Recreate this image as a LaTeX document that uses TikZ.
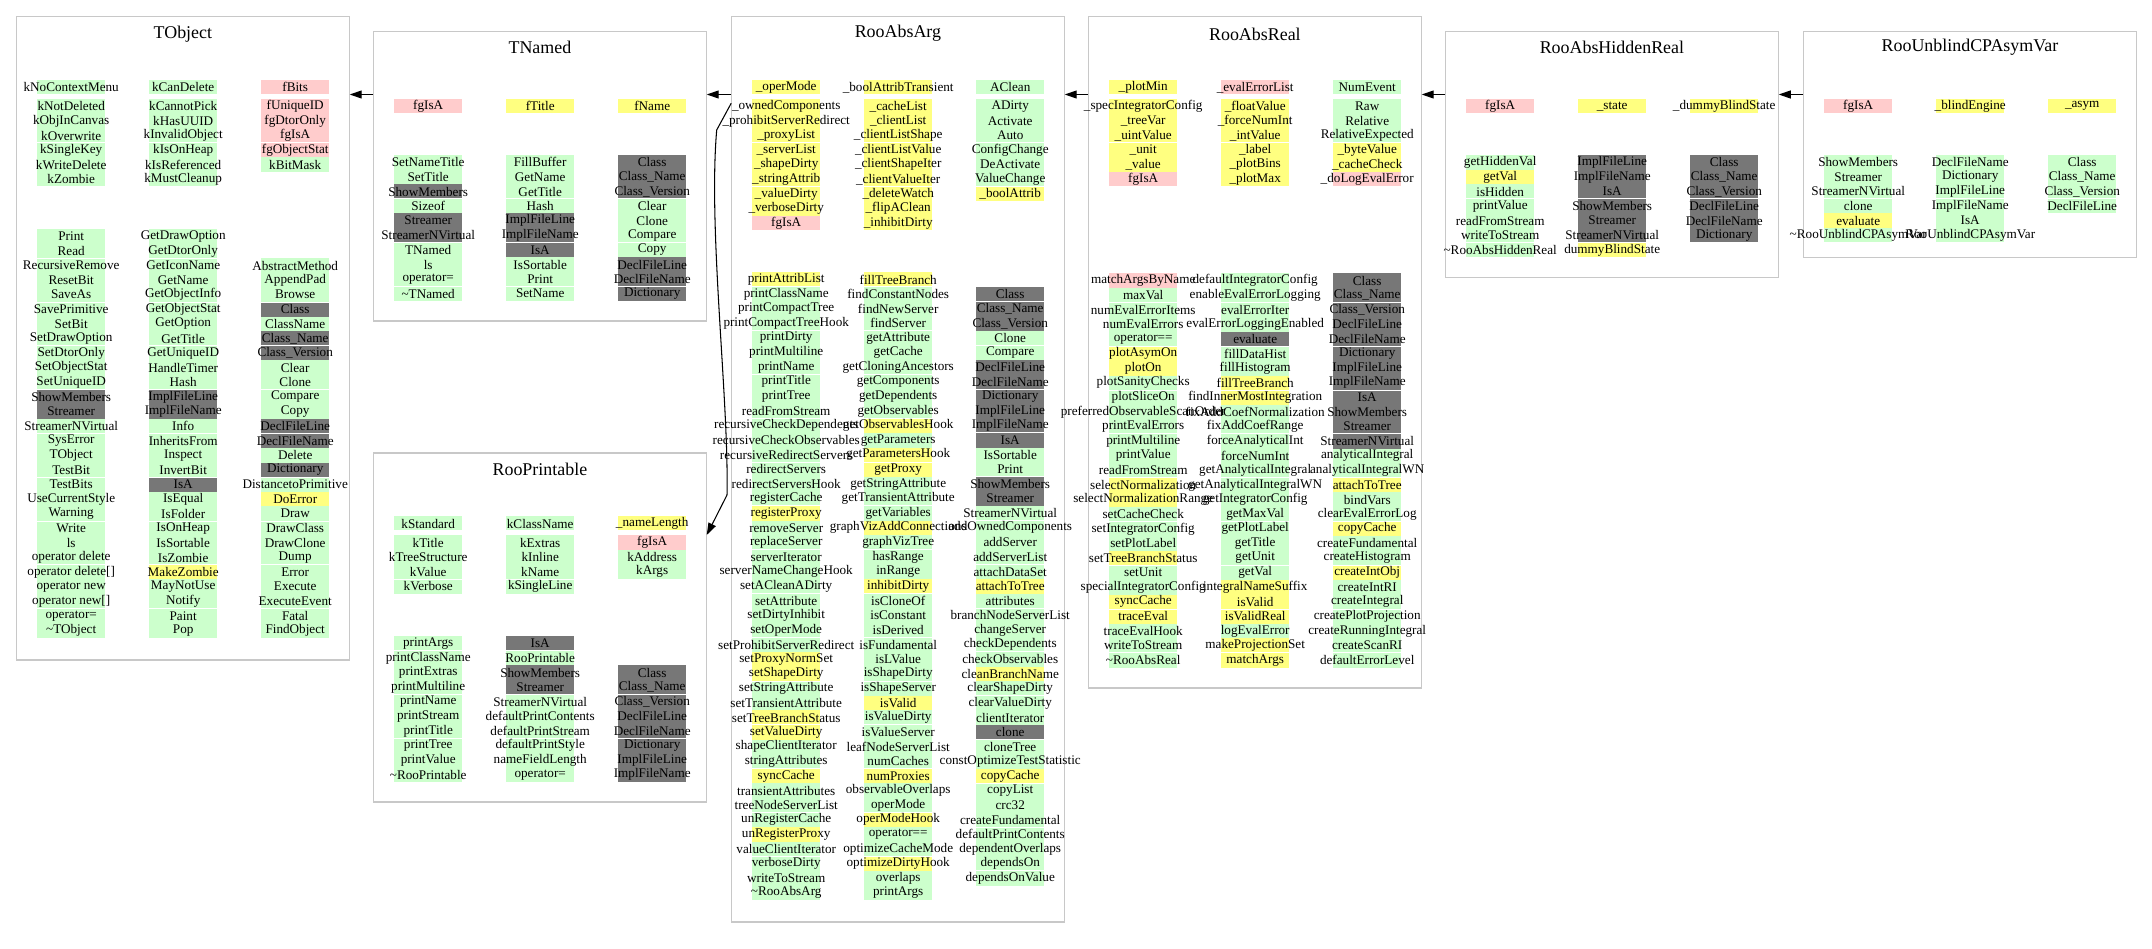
\documentclass[tikz,border=0pt]{standalone}
\usepackage{fontspec}
\setmainfont{Liberation Serif}
\usetikzlibrary{arrows.meta,fit}

\definecolor{cv}{HTML}{CCFFCC} % verde
\definecolor{ca}{HTML}{FFFF80} % amarillo
\definecolor{cr}{HTML}{FFCCCC} % rosa
\definecolor{cg}{HTML}{777777} % gris
\definecolor{borde}{HTML}{C8C8C8}

\tikzset{
  caja/.style={draw=borde, line width=0.6pt, inner sep=0pt},
  titulo/.style={font=\fontsize{10.2}{12}\selectfont, inner sep=0pt},
  miembro/.style={font=\fontsize{7.5}{9}\selectfont, inner sep=0pt},
  separa/.style={white, line width=0.5pt},
  flecha/.style={-{Triangle[length=0.24cm,width=0.16cm]}, line width=0.6pt},
}

% pasada: 0 relleno, 1 separadores, 2 textos
\newcount\modo
% #1 x centro, #2 y superior, #3 primer grupo, #4 prefijo, #5 texto/color
\newcommand{\columna}[5]{%
  \foreach \txt/\clr [count=\i] in {#5}{%
    \ifcase\modo
      \fill[fill=\clr] ({#1-34},{#2+(\i-1)*14.6}) rectangle ({#1+34},{#2+\i*14.6});
    \or
      \pgfmathtruncatemacro{\resto}{mod(\i-#3,3)}%
      \ifnum\resto=0
        \draw[separa] ({#1-34},{#2+\i*14.6}) -- ({#1+34},{#2+\i*14.6});
      \fi
    \or
      \node[miembro] (#4-\i) at (#1,{#2+(\i-0.5)*14.6}) {\txt};
    \fi
  }%
}

\newcommand{\clases}{%
        % TObject
        \columna{71.2}{80}{1}{tobj-a0}{kNoContextMenu/cv}
        \columna{71.2}{99}{3}{tobj-a}{kNotDeleted/cv, kObjInCanvas/cv, kOverwrite/cv, kSingleKey/cv, kWriteDelete/cv, kZombie/cv}
        \columna{183.2}{80}{1}{tobj-b0}{kCanDelete/cv}
        \columna{183.2}{99}{3}{tobj-b}{kCannotPick/cv, kHasUUID/cv, kInvalidObject/cv, kIsOnHeap/cv, kIsReferenced/cv, kMustCleanup/cv}
        \columna{295.2}{80}{1}{tobj-c0}{fBits/cr}
        \columna{295.2}{99}{3}{tobj-c}{fUniqueID/cr, fgDtorOnly/cr, fgIsA/cr, fgObjectStat/cr, kBitMask/cv}
        \columna{71.2}{229}{2}{tobj-d}{Print/cv, Read/cv, RecursiveRemove/cv, ResetBit/cv, SaveAs/cv, SavePrimitive/cv, SetBit/cv, SetDrawOption/cv, SetDtorOnly/cv, SetObjectStat/cv, SetUniqueID/cv, ShowMembers/cg, Streamer/cg, StreamerNVirtual/cv, SysError/cv, TObject/cv, TestBit/cv, TestBits/cv, UseCurrentStyle/cv, Warning/cv, Write/cv, ls/cv, operator delete/cv, operator delete[]/cv, operator new/cv, operator new[]/cv, operator=/cv, \textasciitilde TObject/cv}
        \columna{183.2}{229}{2}{tobj-e}{GetDrawOption/cv, GetDtorOnly/cv, GetIconName/cv, GetName/cv, GetObjectInfo/cv, GetObjectStat/cv, GetOption/cv, GetTitle/cv, GetUniqueID/cv, HandleTimer/cv, Hash/cv, ImplFileLine/cg, ImplFileName/cg, Info/cv, InheritsFrom/cv, Inspect/cv, InvertBit/cv, IsA/cg, IsEqual/cv, IsFolder/cv, IsOnHeap/cv, IsSortable/cv, IsZombie/cv, MakeZombie/ca, MayNotUse/cv, Notify/cv, Paint/cv, Pop/cv}
        \columna{295.2}{258.2}{3}{tobj-f}{AbstractMethod/cv, AppendPad/cv, Browse/cv, Class/cg, ClassName/cv, Class\_Name/cg, Class\_Version/cg, Clear/cv, Clone/cv, Compare/cv, Copy/cv, DeclFileLine/cg, DeclFileName/cg, Delete/cv, Dictionary/cg, DistancetoPrimitive/cv, DoError/ca, Draw/cv, DrawClass/cv, DrawClone/cv, Dump/cv, Error/cv, Execute/cv, ExecuteEvent/cv, Fatal/cv, FindObject/cv}
        % TNamed
        \columna{428.2}{99}{1}{tnam-a}{fgIsA/cr}
        \columna{540.2}{99}{1}{tnam-b}{fTitle/ca}
        \columna{652.2}{99}{1}{tnam-c}{fName/ca}
        \columna{428.2}{155}{3}{tnam-d}{SetNameTitle/cv, SetTitle/cv, ShowMembers/cg, Sizeof/cv, Streamer/cg, StreamerNVirtual/cg, TNamed/cv, ls/cv, operator=/cv, \textasciitilde TNamed/cv}
        \columna{540.2}{155}{3}{tnam-e}{FillBuffer/cv, GetName/cv, GetTitle/cv, Hash/cv, ImplFileLine/cg, ImplFileName/cg, IsA/cg, IsSortable/cv, Print/cv, SetName/cv}
        \columna{652.2}{155}{3}{tnam-f}{Class/cg, Class\_Name/cg, Class\_Version/cg, Clear/cv, Clone/cv, Compare/cv, Copy/cv, DeclFileLine/cg, DeclFileName/cg, Dictionary/cg}
        % RooPrintable
        \columna{428.2}{516.3}{1}{prt-a0}{kStandard/cv}
        \columna{428.2}{535.3}{3}{prt-a}{kTitle/cv, kTreeStructure/cv, kValue/cv, kVerbose/cv}
        \columna{540.2}{516.3}{1}{prt-b0}{kClassName/cv}
        \columna{540.2}{535.3}{3}{prt-b}{kExtras/cv, kInline/cv, kName/cv, kSingleLine/cv}
        \columna{652.2}{516.3}{1}{prt-c0}{\_nameLength/ca}
        \columna{652.2}{535.3}{3}{prt-c}{fgIsA/cr, kAddress/cv, kArgs/cv}
        \columna{428.2}{636}{1}{prt-d}{printArgs/cv, printClassName/cv, printExtras/cv, printMultiline/cv, printName/cv, printStream/cv, printTitle/cv, printTree/cv, printValue/cv, \textasciitilde RooPrintable/cv}
        \columna{540.2}{636}{1}{prt-e}{IsA/cg, RooPrintable/cv, ShowMembers/cg, Streamer/cg, StreamerNVirtual/cv, defaultPrintContents/cv, defaultPrintStream/cv, defaultPrintStyle/cv, nameFieldLength/cv, operator=/cv}
        \columna{652.2}{665.2}{2}{prt-f}{Class/cg, Class\_Name/cg, Class\_Version/cg, DeclFileLine/cg, DeclFileName/cg, Dictionary/cg, ImplFileLine/cg, ImplFileName/cg}
        % RooAbsArg
        \columna{786.2}{80}{1}{arg-a0}{\_operMode/ca}
        \columna{786.2}{99}{3}{arg-a}{\_ownedComponents/ca, \_prohibitServerRedirect/ca, \_proxyList/ca, \_serverList/ca, \_shapeDirty/ca, \_stringAttrib/ca, \_valueDirty/ca, \_verboseDirty/ca, fgIsA/cr}
        \columna{898.2}{80}{1}{arg-b0}{\_boolAttribTransient/ca}
        \columna{898.2}{99}{3}{arg-b}{\_cacheList/ca, \_clientList/ca, \_clientListShape/ca, \_clientListValue/ca, \_clientShapeIter/ca, \_clientValueIter/ca, \_deleteWatch/ca, \_flipAClean/ca, \_inhibitDirty/ca}
        \columna{1010.2}{80}{1}{arg-c0}{AClean/cv}
        \columna{1010.2}{99}{3}{arg-c}{ADirty/cv, Activate/cv, Auto/cv, ConfigChange/cv, DeActivate/cv, ValueChange/cv, \_boolAttrib/ca}
        \columna{786.2}{272.3}{1}{arg-d}{printAttribList/ca, printClassName/cv, printCompactTree/cv, printCompactTreeHook/cv, printDirty/cv, printMultiline/cv, printName/cv, printTitle/cv, printTree/cv, readFromStream/cv, recursiveCheckDependents/cv, recursiveCheckObservables/cv, recursiveRedirectServers/cv, redirectServers/cv, redirectServersHook/cv, registerCache/cv, registerProxy/ca, removeServer/cv, replaceServer/cv, serverIterator/cv, serverNameChangeHook/cv, setACleanADirty/cv, setAttribute/cv, setDirtyInhibit/cv, setOperMode/cv, setProhibitServerRedirect/cv, setProxyNormSet/ca, setShapeDirty/ca, setStringAttribute/cv, setTransientAttribute/cv, setTreeBranchStatus/ca, setValueDirty/ca, shapeClientIterator/cv, stringAttributes/cv, syncCache/ca, transientAttributes/cv, treeNodeServerList/cv, unRegisterCache/cv, unRegisterProxy/ca, valueClientIterator/cv, verboseDirty/cv, writeToStream/cv, \textasciitilde RooAbsArg/cv}
        \columna{898.2}{272.3}{1}{arg-e}{fillTreeBranch/ca, findConstantNodes/cv, findNewServer/cv, findServer/cv, getAttribute/cv, getCache/cv, getCloningAncestors/cv, getComponents/cv, getDependents/cv, getObservables/cv, getObservablesHook/ca, getParameters/cv, getParametersHook/ca, getProxy/ca, getStringAttribute/cv, getTransientAttribute/cv, getVariables/cv, graphVizAddConnections/ca, graphVizTree/cv, hasRange/cv, inRange/cv, inhibitDirty/ca, isCloneOf/cv, isConstant/cv, isDerived/cv, isFundamental/cv, isLValue/cv, isShapeDirty/cv, isShapeServer/cv, isValid/ca, isValueDirty/cv, isValueServer/cv, leafNodeServerList/cv, numCaches/cv, numProxies/ca, observableOverlaps/cv, operMode/cv, operModeHook/ca, operator==/cv, optimizeCacheMode/cv, optimizeDirtyHook/ca, overlaps/cv, printArgs/cv}
        \columna{1010.2}{286.9}{1}{arg-f}{Class/cg, Class\_Name/cg, Class\_Version/cg, Clone/cv, Compare/cv, DeclFileLine/cg, DeclFileName/cg, Dictionary/cg, ImplFileLine/cg, ImplFileName/cg, IsA/cg, IsSortable/cv, Print/cv, ShowMembers/cg, Streamer/cg, StreamerNVirtual/cv, addOwnedComponents/cv, addServer/cv, addServerList/cv, attachDataSet/cv, attachToTree/ca, attributes/cv, branchNodeServerList/cv, changeServer/cv, checkDependents/cv, checkObservables/cv, cleanBranchName/ca, clearShapeDirty/cv, clearValueDirty/cv, clientIterator/cv, clone/cg, cloneTree/cv, constOptimizeTestStatistic/cv, copyCache/ca, copyList/cv, crc32/cv, createFundamental/cv, defaultPrintContents/cv, dependentOverlaps/cv, dependsOn/cv, dependsOnValue/cv}
        % RooAbsReal
        \columna{1143.2}{80}{1}{real-a0}{\_plotMin/ca}
        \columna{1143.2}{99}{3}{real-a}{\_specIntegratorConfig/ca, \_treeVar/ca, \_uintValue/ca, \_unit/ca, \_value/ca, fgIsA/cr}
        \columna{1255.2}{80}{1}{real-b0}{\_evalErrorList/cr}
        \columna{1255.2}{99}{3}{real-b}{\_floatValue/ca, \_forceNumInt/ca, \_intValue/ca, \_label/ca, \_plotBins/ca, \_plotMax/ca}
        \columna{1367.2}{80}{1}{real-c0}{NumEvent/cv}
        \columna{1367.2}{99}{3}{real-c}{Raw/cv, Relative/cv, RelativeExpected/cv, \_byteValue/ca, \_cacheCheck/ca, \_doLogEvalError/cr}
        \columna{1143.2}{273.3}{2}{real-d}{matchArgsByName/cr, maxVal/cv, numEvalErrorItems/cv, numEvalErrors/cv, operator==/cv, plotAsymOn/ca, plotOn/ca, plotSanityChecks/cv, plotSliceOn/cv, preferredObservableScanOrder/cv, printEvalErrors/cv, printMultiline/cv, printValue/cv, readFromStream/cv, selectNormalization/ca, selectNormalizationRange/ca, setCacheCheck/cv, setIntegratorConfig/cv, setPlotLabel/cv, setTreeBranchStatus/ca, setUnit/cv, specialIntegratorConfig/cv, syncCache/ca, traceEval/ca, traceEvalHook/cv, writeToStream/cv, \textasciitilde RooAbsReal/cv}
        \columna{1255.2}{273.3}{2}{real-e}{defaultIntegratorConfig/cv, enableEvalErrorLogging/cv, evalErrorIter/cv, evalErrorLoggingEnabled/cv, evaluate/cg, fillDataHist/cv, fillHistogram/cv, fillTreeBranch/ca, findInnerMostIntegration/ca, fixAddCoefNormalization/cv, fixAddCoefRange/cv, forceAnalyticalInt/cv, forceNumInt/cv, getAnalyticalIntegral/cv, getAnalyticalIntegralWN/cv, getIntegratorConfig/cv, getMaxVal/cv, getPlotLabel/cv, getTitle/cv, getUnit/cv, getVal/cv, integralNameSuffix/ca, isValid/ca, isValidReal/ca, logEvalError/cv, makeProjectionSet/ca, matchArgs/ca}
        \columna{1367.2}{273.3}{2}{real-f}{Class/cg, Class\_Name/cg, Class\_Version/cg, DeclFileLine/cg, DeclFileName/cg, Dictionary/cg, ImplFileLine/cg, ImplFileName/cg, IsA/cg, ShowMembers/cg, Streamer/cg, StreamerNVirtual/cg, analyticalIntegral/cv, analyticalIntegralWN/cv, attachToTree/ca, bindVars/cv, clearEvalErrorLog/cv, copyCache/ca, createFundamental/cv, createHistogram/cv, createIntObj/ca, createIntRI/cv, createIntegral/cv, createPlotProjection/cv, createRunningIntegral/cv, createScanRI/cv, defaultErrorLevel/cv}
        % RooAbsHiddenReal
        \columna{1500.2}{99}{1}{hid-a}{fgIsA/cr}
        \columna{1612.2}{99}{1}{hid-b}{\_state/ca}
        \columna{1724.2}{99}{1}{hid-c}{\_dummyBlindState/ca}
        \columna{1500.2}{155}{3}{hid-d}{getHiddenVal/cv, getVal/ca, isHidden/cv, printValue/cv, readFromStream/cv, writeToStream/cv, \textasciitilde RooAbsHiddenReal/cv}
        \columna{1612.2}{155}{3}{hid-e}{ImplFileLine/cg, ImplFileName/cg, IsA/cg, ShowMembers/cg, Streamer/cg, StreamerNVirtual/cg, dummyBlindState/ca}
        \columna{1724.2}{155}{3}{hid-f}{Class/cg, Class\_Name/cg, Class\_Version/cg, DeclFileLine/cg, DeclFileName/cg, Dictionary/cg}
        % RooUnblindCPAsymVar
        \columna{1858.2}{99}{1}{unb-a}{fgIsA/cr}
        \columna{1970.2}{99}{1}{unb-b}{\_blindEngine/ca}
        \columna{2082.2}{99}{1}{unb-c}{\_asym/ca}
        \columna{1858.2}{155}{3}{unb-d}{ShowMembers/cv, Streamer/cv, StreamerNVirtual/cv, clone/cv, evaluate/ca, \textasciitilde RooUnblindCPAsymVar/cv}
        \columna{1970.2}{155}{3}{unb-e}{DeclFileName/cv, Dictionary/cv, ImplFileLine/cv, ImplFileName/cv, IsA/cv, RooUnblindCPAsymVar/cv}
        \columna{2082.2}{155}{3}{unb-f}{Class/cv, Class\_Name/cv, Class\_Version/cv, DeclFileLine/cv}
}

\begin{document}
\begin{tikzpicture}[x=0.02cm, y=-0.02cm]
        \useasboundingbox (0,0) rectangle (2152,949);

        % Paso 1: Cajas de las clases
        \node[caja, fit={(16.7,16.7) (349.2,660)}] (tobject) {};
        \node[caja, fit={(373.7,31.7) (706.2,321)}] (tnamed) {};
        \node[caja, fit={(373.7,453) (706.2,802)}] (printable) {};
        \node[caja, fit={(731.7,16.7) (1064.2,922)}] (absarg) {};
        \node[caja, fit={(1088.7,16.7) (1421.2,688)}] (absreal) {};
        \node[caja, fit={(1445.7,31.7) (1778.2,277.3)}] (hidden) {};
        \node[caja, fit={(1803.7,31.7) (2136.2,257.7)}] (unblind) {};

        % Paso 2: Titulos
        \node[titulo] (tobject-t) at (182.9,34) {TObject};
        \node[titulo] (tnamed-t) at (539.9,47.3) {TNamed};
        \node[titulo] (printable-t) at (539.9,469) {RooPrintable};
        \node[titulo] (absarg-t) at (897.9,33.3) {RooAbsArg};
        \node[titulo] (absreal-t) at (1254.9,34) {RooAbsReal};
        \node[titulo] (hidden-t) at (1611.9,47.3) {RooAbsHiddenReal};
        \node[titulo] (unblind-t) at (1969.9,47.3) {RooUnblindCPAsymVar};

        % Paso 3: Celdas, separadores y textos de los miembros
        \modo=0 \clases
        \modo=1 \clases
        \modo=2 \clases

        % Paso 4: Flechas de herencia
        \coordinate (nivel) at (0,94.5);
        \draw[flecha] (nivel -| tnamed.west) -- (nivel -| tobject.east);
        \draw[flecha] (nivel -| absarg.west) -- (nivel -| tnamed.east);
        \draw[flecha] (nivel -| absreal.west) -- (nivel -| absarg.east);
        \draw[flecha] (nivel -| hidden.west) -- (nivel -| absreal.east);
        \draw[flecha] (nivel -| unblind.west) -- (nivel -| hidden.east);

        % Paso 5: Curva de RooAbsArg a RooPrintable
        \coordinate (salida) at (0,103.3);
        \coordinate (llegada) at (0,535);
        \draw[flecha] (salida -| absarg.west) -- (716.7,130)
            .. controls (708,230) and (729,400) .. (727,495) -- (llegada -| printable.east);
    \end{tikzpicture}
\end{document}
